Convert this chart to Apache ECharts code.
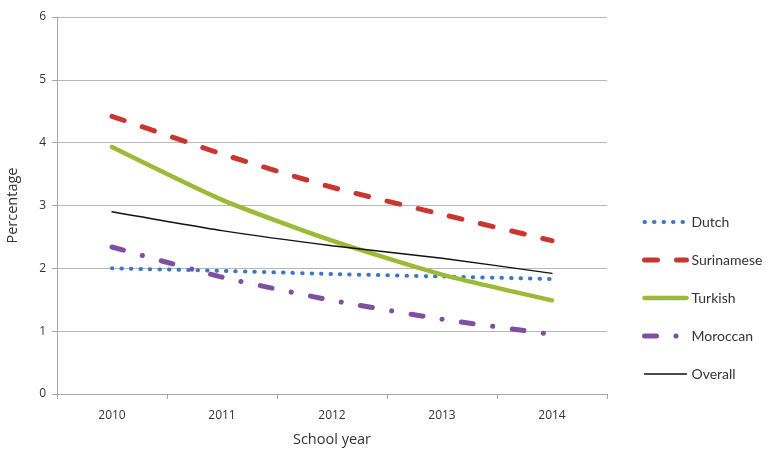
<!DOCTYPE html>
<html><head><meta charset="utf-8">
<script src="https://cdn.jsdelivr.net/npm/echarts@6/dist/echarts.min.js"></script>
<style>html,body{margin:0;padding:0;background:#fff}#c{width:770px;height:455px}</style>
</head><body><div id="c"></div>
<script>
const years = ['2010','2011','2012','2013','2014'];
const dutch = [2.00, 1.96, 1.91, 1.87, 1.83];
const surinamese = [4.42, 3.82, 3.29, 2.86, 2.44];
const turkish = [3.93, 3.09, 2.44, 1.90, 1.49];
const moroccan = [2.34, 1.86, 1.49, 1.19, 0.95];
const overall = [2.90, 2.60, 2.36, 2.16, 1.92];

const font = '"Open Sans", sans-serif';
const styles = {
  Dutch: {color:'#3b78c2', width:4, type:[0.5, 9]},
  Surinamese: {color:'#c9352f', width:5, type:[13, 19]},
  Turkish: {color:'#9bbb38', width:4.5, type:'solid'},
  Moroccan: {color:'#7f509f', width:5, type:[12, 19.5, 0.1, 19.5]},
  Overall: {color:'#111', width:1.4, type:'solid'}
};
const chart = echarts.init(document.getElementById('c'));
function ser(name, data) {
  const s = styles[name];
  return {name, type:'line', data, symbol:'none', smooth:0.2,
    lineStyle:{color:s.color, width:s.width, type:s.type, cap:'round'}, itemStyle:{color:s.color}};
}
const names = ['Dutch','Surinamese','Turkish','Moroccan','Overall'];
chart.setOption({
  animation:false,
  grid:{left:57, right:163, top:17, bottom:61, containLabel:false, outerBoundsMode:'none'},
  legend:{orient:'vertical', left:642, top:215, padding:0, itemWidth:42, itemHeight:14, itemGap:24,
    itemStyle:{opacity:0},
    textStyle:{fontFamily:'Lato, sans-serif', fontSize:14, color:'#333'},
    data:names.map(n => ({name:n, lineStyle:{color:styles[n].color, width:styles[n].width, type:styles[n].type, cap:'round'}}))},
  xAxis:{type:'category', data:years, boundaryGap:true,
    name:'School year', nameLocation:'middle', nameGap:38,
    nameTextStyle:{fontFamily:font, fontSize:14.5, color:'#333'},
    axisLine:{lineStyle:{color:'#a6a6a6', width:1}},
    axisTick:{show:true, length:5, alignWithLabel:false, lineStyle:{color:'#a6a6a6'}},
    axisLabel:{fontFamily:font, fontSize:12, color:'#333', margin:16}},
  yAxis:{type:'value', min:0, max:6, interval:1,
    name:'Percentage', nameLocation:'middle', nameGap:37, nameRotate:90,
    nameTextStyle:{fontFamily:font, fontSize:14.5, color:'#333'},
    axisLine:{show:true, lineStyle:{color:'#a6a6a6', width:1}},
    axisTick:{show:true, length:5, lineStyle:{color:'#a6a6a6'}},
    splitLine:{lineStyle:{color:'#b8b8b8', width:1}},
    axisLabel:{fontFamily:font, fontSize:12, color:'#333', margin:11}},
  series:names.map((n, i) => ser(n, [dutch, surinamese, turkish, moroccan, overall][i]))
});
</script></body></html>
